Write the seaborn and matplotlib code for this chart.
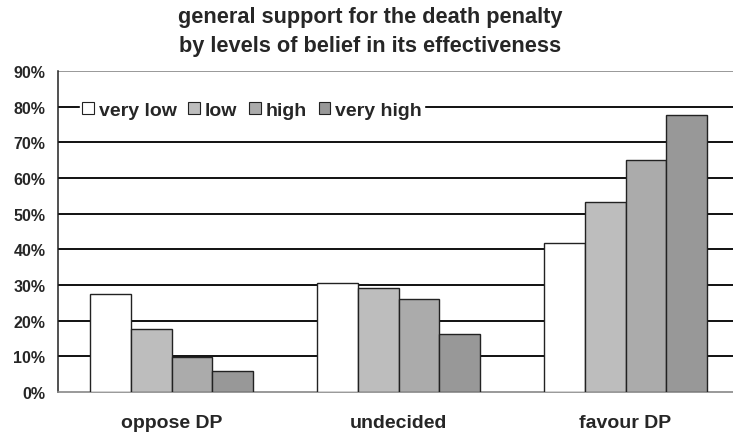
import pandas as pd
import matplotlib.pyplot as plt
import seaborn as sns

sns.set_style("white")
plt.rcParams['font.family'] = ['Liberation Sans', 'DejaVu Sans']

opinion = ['oppose DP', 'undecided', 'favour DP']
belief = ['very low', 'low', 'high', 'very high']
very_low = [27.6, 30.6, 41.7]
low = [17.6, 29.2, 53.2]
high = [9.7, 26.1, 65.1]
very_high = [5.9, 16.2, 77.6]

df = pd.DataFrame({'very low': very_low, 'low': low, 'high': high, 'very high': very_high},
                  index=opinion)
df = df.reset_index().melt(id_vars='index', var_name='belief', value_name='pct')
df = df.rename(columns={'index': 'opinion'})

colors = ['#ffffff', '#bdbdbd', '#ababab', '#989898']

fig = plt.figure(figsize=(7.33, 4.35), dpi=100)
ax = fig.add_axes([58 / 733, 42 / 435, 681 / 733, 321 / 435])

sns.barplot(data=df, x='opinion', y='pct', hue='belief', hue_order=belief,
            palette=colors, width=0.72, gap=0, edgecolor='#222222', linewidth=1,
            saturation=1, ax=ax, zorder=3)

ax.set_ylim(0, 90)
ax.set_xlim(-0.5, 2.5)
ax.set_yticks(range(0, 91, 10))
ax.set_yticklabels([f'{v}%' for v in range(0, 91, 10)], fontsize=11.5, fontweight='bold')
ax.set_xticks([0.5, 1.5], minor=True)
ax.set_xticks([0, 1, 2])
ax.set_xticklabels(opinion, fontsize=14, fontweight='bold')
ax.tick_params(axis='x', which='major', length=0, pad=16)
ax.tick_params(axis='x', which='minor', length=5, width=1, color='#444444')
ax.tick_params(axis='y', length=6, width=1, color='#222222', pad=3)
ax.set_xlabel('')
ax.set_ylabel('')

for v in range(10, 90, 10):
    ax.axhline(v, color='#111111', linewidth=1.4, zorder=1)
ax.axhline(90, color='#888888', linewidth=1.2, zorder=1)

for s in ['top', 'right']:
    ax.spines[s].set_visible(False)
ax.spines['left'].set_color('#222222')
ax.spines['left'].set_linewidth(1.1)
ax.spines['bottom'].set_color('#888888')
ax.spines['bottom'].set_linewidth(1.2)

leg = ax.legend(loc='center left', bbox_to_anchor=(0.033, 0.878), ncol=4, frameon=True,
                framealpha=1, edgecolor='white', fancybox=False,
                handlelength=0.6, handleheight=0.6, handletextpad=0.25,
                columnspacing=0.6, borderpad=0.1, borderaxespad=0,
                prop={'weight': 'bold', 'size': 14})
leg.set_zorder(4)
for h in leg.legend_handles:
    h.set_edgecolor('#222222')
    h.set_linewidth(0.8)

fig.text(0.505, 0.985, 'general support for the death penalty\nby levels of belief in its effectiveness',
         ha='center', va='top', fontsize=15.7, fontweight='bold', linespacing=1.55)

fig.savefig('out.png', dpi=100)
